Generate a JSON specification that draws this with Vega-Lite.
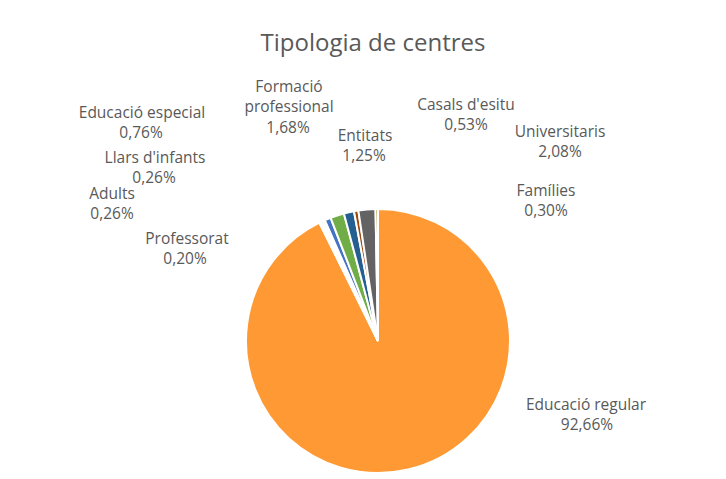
{
  "$schema": "https://vega.github.io/schema/vega-lite/v6.json",
  "width": 696,
  "height": 276,
  "autosize": {"type": "none"},
  "padding": {"left": 30, "top": 203, "right": 0, "bottom": 0},
  "background": "white",
  "title": {"text": "Tipologia de centres", "font": "Open Sans", "fontSize": 24, "fontWeight": "normal", "color": "#595959", "anchor": "middle", "baseline": "middle", "offset": 12, "dx": -5},
  "config": {
    "view": {"stroke": null},
    "locale": {"number": {"decimal": ",", "thousands": ".", "grouping": [3], "currency": ["", " €"]}},
    "text": {"font": "Open Sans", "fontSize": 15.5, "color": "#595959", "align": "center", "baseline": "middle", "lineHeight": 20}
  },
  "data": {
    "values": [
      {"ordre": 1, "Tipus": "Educació regular", "pct": 0.9266},
      {"ordre": 2, "Tipus": "Professorat", "pct": 0.0020},
      {"ordre": 3, "Tipus": "Adults", "pct": 0.0026},
      {"ordre": 4, "Tipus": "Llars d'infants", "pct": 0.0026},
      {"ordre": 5, "Tipus": "Educació especial", "pct": 0.0076},
      {"ordre": 6, "Tipus": "Formació professional", "pct": 0.0168},
      {"ordre": 7, "Tipus": "Entitats", "pct": 0.0125},
      {"ordre": 8, "Tipus": "Casals d'esitu", "pct": 0.0053},
      {"ordre": 9, "Tipus": "Universitaris", "pct": 0.0208},
      {"ordre": 10, "Tipus": "Famílies", "pct": 0.0030}
    ]
  },
  "layer": [
    {
      "mark": {"type": "arc", "outerRadius": 132, "stroke": "white", "strokeWidth": 2},
      "encoding": {
        "theta": {"field": "pct", "type": "quantitative", "stack": true},
        "order": {"field": "ordre", "type": "quantitative"},
        "color": {
          "field": "Tipus", "type": "nominal", "legend": null,
          "scale": {
            "domain": ["Educació regular", "Professorat", "Adults", "Llars d'infants", "Educació especial", "Formació professional", "Entitats", "Casals d'esitu", "Universitaris", "Famílies"],
            "range": ["#FF9933", "#ED7D31", "#A5A5A5", "#FFC000", "#4472C4", "#70AD47", "#255E91", "#9E480E", "#636363", "#997300"]
          }
        }
      }
    },
    {
      "transform": [{"filter": "datum.Tipus === 'Educació regular'"}],
      "layer": [
        {"mark": {"type": "text", "dx": 208, "dy": 64}, "encoding": {"text": {"field": "Tipus", "type": "nominal"}}},
        {"mark": {"type": "text", "dx": 209, "dy": 84}, "encoding": {"text": {"field": "pct", "type": "quantitative", "format": ".2%"}}}
      ]
    },
    {
      "transform": [{"filter": "datum.Tipus === 'Famílies'"}],
      "layer": [
        {"mark": {"type": "text", "dx": 168, "dy": -150}, "encoding": {"text": {"field": "Tipus", "type": "nominal"}}},
        {"mark": {"type": "text", "dx": 168, "dy": -130}, "encoding": {"text": {"field": "pct", "type": "quantitative", "format": ".2%"}}}
      ]
    },
    {
      "transform": [{"filter": "datum.Tipus === 'Universitaris'"}],
      "layer": [
        {"mark": {"type": "text", "dx": 182, "dy": -209}, "encoding": {"text": {"field": "Tipus", "type": "nominal"}}},
        {"mark": {"type": "text", "dx": 182, "dy": -189}, "encoding": {"text": {"field": "pct", "type": "quantitative", "format": ".2%"}}}
      ]
    },
    {
      "transform": [{"filter": "datum.Tipus === \"Casals d'esitu\""}],
      "layer": [
        {"mark": {"type": "text", "dx": 88, "dy": -236}, "encoding": {"text": {"field": "Tipus", "type": "nominal"}}},
        {"mark": {"type": "text", "dx": 88, "dy": -216}, "encoding": {"text": {"field": "pct", "type": "quantitative", "format": ".2%"}}}
      ]
    },
    {
      "transform": [{"filter": "datum.Tipus === 'Entitats'"}],
      "layer": [
        {"mark": {"type": "text", "dx": -13, "dy": -205}, "encoding": {"text": {"field": "Tipus", "type": "nominal"}}},
        {"mark": {"type": "text", "dx": -14, "dy": -185}, "encoding": {"text": {"field": "pct", "type": "quantitative", "format": ".2%"}}}
      ]
    },
    {
      "transform": [{"filter": "datum.Tipus === 'Formació professional'"}],
      "layer": [
        {"mark": {"type": "text", "dx": -89, "dy": -254, "lineBreak": " "}, "encoding": {"text": {"field": "Tipus", "type": "nominal"}}},
        {"mark": {"type": "text", "dx": -90, "dy": -213}, "encoding": {"text": {"field": "pct", "type": "quantitative", "format": ".2%"}}}
      ]
    },
    {
      "transform": [{"filter": "datum.Tipus === 'Educació especial'"}],
      "layer": [
        {"mark": {"type": "text", "dx": -236, "dy": -228}, "encoding": {"text": {"field": "Tipus", "type": "nominal"}}},
        {"mark": {"type": "text", "dx": -237, "dy": -208}, "encoding": {"text": {"field": "pct", "type": "quantitative", "format": ".2%"}}}
      ]
    },
    {
      "transform": [{"filter": "datum.Tipus === \"Llars d'infants\""}],
      "layer": [
        {"mark": {"type": "text", "dx": -223, "dy": -183}, "encoding": {"text": {"field": "Tipus", "type": "nominal"}}},
        {"mark": {"type": "text", "dx": -224, "dy": -163}, "encoding": {"text": {"field": "pct", "type": "quantitative", "format": ".2%"}}}
      ]
    },
    {
      "transform": [{"filter": "datum.Tipus === 'Adults'"}],
      "layer": [
        {"mark": {"type": "text", "dx": -266, "dy": -147}, "encoding": {"text": {"field": "Tipus", "type": "nominal"}}},
        {"mark": {"type": "text", "dx": -266, "dy": -127}, "encoding": {"text": {"field": "pct", "type": "quantitative", "format": ".2%"}}}
      ]
    },
    {
      "transform": [{"filter": "datum.Tipus === 'Professorat'"}],
      "layer": [
        {"mark": {"type": "text", "dx": -191, "dy": -102}, "encoding": {"text": {"field": "Tipus", "type": "nominal"}}},
        {"mark": {"type": "text", "dx": -193, "dy": -82}, "encoding": {"text": {"field": "pct", "type": "quantitative", "format": ".2%"}}}
      ]
    }
  ]
}
